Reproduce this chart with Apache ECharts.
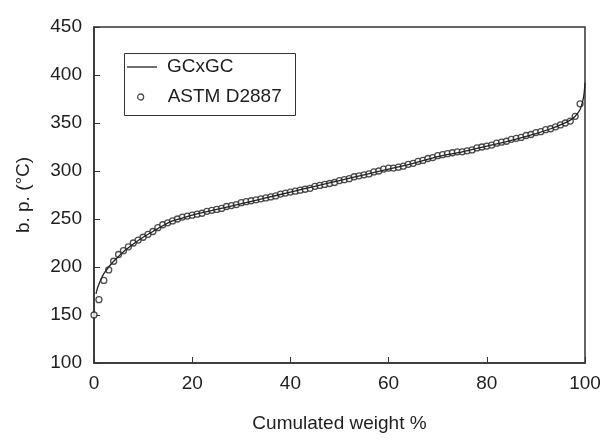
<!DOCTYPE html>
<html>
<head>
<meta charset="utf-8">
<script src="https://cdn.jsdelivr.net/npm/echarts@6/dist/echarts.min.js"></script>
<style>html,body{margin:0;padding:0;background:#fff}#c{width:605px;height:440px}</style>
</head>
<body>
<div id="c"></div>
<script>
// GCxGC simulated distillation curve
const gcX = [0.4,0.7,1,1.5,2,3,4,5,6,7,8,10,12,14,16,18,20,25,30,35,40,45,50,55,60,65,70,75,80,85,90,93,95,97,98,99,99.5,99.8,100];
const gcY = [172,178,182,188,193,200,206,211,216,220,224,231,237,243,248,251,254,260,266,272,278,284,290,296,302,308,315,320,326,332,339,344,348,353,357,364,372,380,392];
// ASTM D2887 points, one per cumulated weight %
const astmX = [0,1,2,3,4,5,6,7,8,9,10,11,12,13,14,15,16,17,18,19,20,21,22,23,24,25,26,27,28,29,30,31,32,33,34,35,36,37,38,39,40,41,42,43,44,45,46,47,48,49,50,51,52,53,54,55,56,57,58,59,60,61,62,63,64,65,66,67,68,69,70,71,72,73,74,75,76,77,78,79,80,81,82,83,84,85,86,87,88,89,90,91,92,93,94,95,96,97,98,99];
const astmY = [150,166,186,197,206,213,217,221,225,228,
231,234,237,241,244,246,248,250,252,253,
254,255,256,258,259,260,261,263,264,265,
267,268,269,270,271,272,273,274,276,277,
278,279,280,281,282,284,285,286,287,288,
290,291,292,294,295,296,297,299,300,302,
303,303,304,305,307,308,310,311,313,314,
316,317,318,319,320,320,321,322,324,325,
326,327,329,330,331,333,334,335,337,338,
340,341,343,344,346,348,350,352,357,370];
const xTicks = {min: 0, max: 100, interval: 20};
const yTicks = {min: 100, max: 450, interval: 50};
const seriesNames = ['GCxGC', 'ASTM D2887'];
const xName = 'Cumulated weight %';
const yName = 'b. p. (\u00B0C)';

const font = 'Liberation Sans, Arial, Helvetica, sans-serif';
const ink = '#1e1e1e';
const fs = 19;
const chart = echarts.init(document.getElementById('c'), null, {renderer: 'canvas'});
chart.setOption({
  animation: false,
  backgroundColor: '#fff',
  grid: {left: 94, right: 20, top: 27, bottom: 77, show: true, borderColor: '#333', borderWidth: 1.5, backgroundColor: 'transparent'},
  xAxis: {
    type: 'value', min: xTicks.min, max: xTicks.max, interval: xTicks.interval,
    name: xName, nameLocation: 'middle', nameGap: 51,
    nameTextStyle: {fontFamily: font, fontSize: fs, color: ink},
    axisLine: {lineStyle: {color: '#333', width: 1.5}},
    axisTick: {inside: true, length: 6, lineStyle: {color: '#333', width: 1}},
    axisLabel: {fontFamily: font, fontSize: fs, color: ink, margin: 11},
    splitLine: {show: false}
  },
  yAxis: {
    type: 'value', min: yTicks.min, max: yTicks.max, interval: yTicks.interval,
    name: yName, nameLocation: 'middle', nameGap: 61, nameRotate: 90,
    nameTextStyle: {fontFamily: font, fontSize: fs, color: ink},
    axisLine: {lineStyle: {color: '#333', width: 1.5}},
    axisTick: {inside: true, length: 6, lineStyle: {color: '#333', width: 1}},
    axisLabel: {fontFamily: font, fontSize: fs, color: ink, margin: 12},
    splitLine: {show: false}
  },
  legend: [
    {data: [{name: seriesNames[0], icon: 'rect', itemStyle: {color: '#222'}}], orient: 'vertical', left: 127, top: 57.5,
     itemWidth: 30, itemHeight: 1.3, padding: 0,
     textStyle: {fontFamily: font, fontSize: fs, color: ink, padding: [0, 0, 0, 5]}},
    {data: [{name: seriesNames[1], icon: 'circle', itemStyle: {color: '#fff', borderColor: '#222', borderWidth: 1.3}}], orient: 'vertical', left: 137, top: 87.5,
     itemWidth: 6, itemHeight: 6, padding: 0,
     textStyle: {fontFamily: font, fontSize: fs, color: ink, padding: [0, 0, 0, 19]}}
  ],
  graphic: [{type: 'rect', left: 122, top: 51, shape: {width: 171, height: 62}, style: {fill: 'none', stroke: '#333', lineWidth: 1}, z: 10}],
  series: [
    {name: seriesNames[0], type: 'line', data: gcX.map((x, i) => [x, gcY[i]]), symbol: 'none', smooth: 0.3,
     lineStyle: {color: '#222', width: 1.3}, itemStyle: {color: '#222'}},
    {name: seriesNames[1], type: 'scatter', data: astmX.map((x, i) => [x, astmY[i]]), symbol: 'circle', symbolSize: 6,
     itemStyle: {color: '#fff', borderColor: '#222', borderWidth: 1.3}}
  ]
});
</script>
</body>
</html>
